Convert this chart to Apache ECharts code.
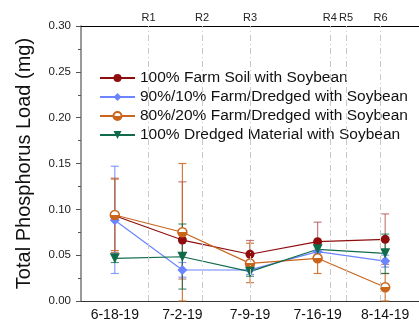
<!DOCTYPE html>
<html><head><meta charset="utf-8">
<script src="https://cdn.jsdelivr.net/npm/echarts@6/dist/echarts.min.js"></script>
<style>html,body{margin:0;padding:0;background:#fff}#c{width:419px;height:325px}</style>
</head><body><div id="c"></div>
<script>
const categories = ['6-18-19','7-2-19','7-9-19','7-16-19','8-14-19'];
const seriesNames = ['100% Farm Soil with Soybean','90%/10% Farm/Dredged with Soybean','80%/20% Farm/Dredged with Soybean','100% Dredged Material with Soybean'];
const farm      = [0.093, 0.0665, 0.051, 0.0647, 0.0673];
const farmLow   = [0.053, 0.024, 0.035, 0.044, 0.040];
const farmHigh  = [0.134, 0.130, 0.066, 0.086, 0.095];
const mix90     = [0.088, 0.0338, 0.034, 0.0538, 0.0436];
const mix90Low  = [0.030, 0.026, 0.029, 0.046, 0.037];
const mix90High = [0.147, 0.042, 0.040, 0.062, 0.050];
const mix80     = [0.0938, 0.075, 0.041, 0.0466, 0.015];
const mix80Low  = [0.055, 0.0, 0.020, 0.030, 0.0];
const mix80High = [0.133, 0.150, 0.063, 0.064, 0.030];
const dredged     = [0.0466, 0.0483, 0.032, 0.0564, 0.052];
const dredgedLow  = [0.042, 0.013, 0.027, 0.048, 0.030];
const dredgedHigh = [0.051, 0.084, 0.040, 0.064, 0.073];
const stageNames = ['R1','R2','R3','R4','R5','R6'];
const stagePos   = [0.5, 1.29, 2.0, 3.18, 3.42, 3.93];
const yTicks = [0, 0.30, 0.05];

const colors = ['#8f0d0d', '#6b84ff', '#c9661c', '#0f6b4a'];
const errColors = ['rgba(160,40,40,0.6)', 'rgba(107,132,255,0.8)', 'rgba(201,102,28,0.85)', 'rgba(15,107,74,0.75)'];
const vals = [farm, mix90, mix80, dredged];
const lows = [farmLow, mix90Low, mix80Low, dredgedLow];
const highs = [farmHigh, mix90High, mix80High, dredgedHigh];
const symbols = ['circle', 'diamond', 'circle', 'triangle'];

const FONT = 'Liberation Sans, Arial, sans-serif';
const chart = echarts.init(document.getElementById('c'), null, {renderer: 'canvas'});

const series = [];
for (let i = 0; i < 4; i++) {
  const eData = categories.map((c, k) => [k, lows[i][k], highs[i][k]]);
  series.push({
    type: 'custom', xAxisIndex: 0, yAxisIndex: 0, z: 2, silent: true,
    data: eData,
    renderItem: function (params, api) {
      const x = api.value(0);
      const lo = api.coord([x, api.value(1)]);
      const hi = api.coord([x, api.value(2)]);
      const hw = 4;
      const st = {stroke: errColors[i], lineWidth: 1.2};
      return {type: 'group', children: [
        {type: 'line', shape: {x1: lo[0], y1: lo[1], x2: hi[0], y2: hi[1]}, style: st},
        {type: 'line', shape: {x1: lo[0]-hw, y1: lo[1], x2: lo[0]+hw, y2: lo[1]}, style: st},
        {type: 'line', shape: {x1: hi[0]-hw, y1: hi[1], x2: hi[0]+hw, y2: hi[1]}, style: st}
      ]};
    }
  });
}
for (let i = 0; i < 4; i++) {
  let itemStyle = {color: colors[i]};
  if (i === 2) {
    itemStyle = {
      color: {type: 'linear', x: 0, y: 0, x2: 0, y2: 1, colorStops: [
        {offset: 0, color: '#ffffff'}, {offset: 0.5, color: '#ffffff'},
        {offset: 0.5, color: colors[2]}, {offset: 1, color: colors[2]}]},
      borderColor: colors[2], borderWidth: 1.5
    };
  }
  series.push({
    name: seriesNames[i], type: 'line', xAxisIndex: 0, yAxisIndex: 0, z: 3,
    data: vals[i],
    symbol: symbols[i],
    symbolSize: i === 1 ? 10 : (i === 3 ? 10 : 9),
    symbolRotate: i === 3 ? 180 : 0,
    lineStyle: {color: colors[i], width: 1.2},
    itemStyle: itemStyle
  });
}
series.push({
  type: 'line', xAxisIndex: 1, yAxisIndex: 0, data: [], silent: true, z: 1,
  markLine: {
    silent: true, symbol: ['none', 'none'],
    lineStyle: {color: '#c8c8c8', type: [6, 3, 1, 3], width: 1},
    label: {show: true, position: 'end', distance: 3, color: '#222', fontSize: 11, fontFamily: FONT, formatter: p => p.name},
    data: stageNames.map((n, k) => ({name: n, xAxis: stagePos[k]}))
  }
});

chart.setOption({
  animation: false,
  backgroundColor: '#ffffff',
  grid: {left: 81, top: 26, width: 340, height: 275, containLabel: false},
  legend: {
    left: 94, top: 65, orient: 'vertical', itemWidth: 35, itemHeight: 10, itemGap: 3,
    textStyle: {fontSize: 15.5, fontFamily: FONT, color: '#111'},
    data: seriesNames
  },
  xAxis: [{
    type: 'category', data: categories, boundaryGap: true,
    axisLine: {onZero: false, lineStyle: {color: '#333', width: 1}},
    axisTick: {alignWithLabel: true, inside: false, length: 5, lineStyle: {color: '#333'}},
    axisLabel: {fontSize: 14, fontFamily: FONT, color: '#111', margin: 7},
    splitLine: {show: false}
  }, {
    type: 'value', position: 'top', min: -0.5, max: 4.5,
    axisLine: {show: true, onZero: false, lineStyle: {color: '#000', width: 1}},
    axisTick: {show: false}, axisLabel: {show: false}, splitLine: {show: false}
  }],
  yAxis: {
    type: 'value', min: yTicks[0], max: yTicks[1], interval: yTicks[2],
    name: 'Total Phosphorus Load (mg)', nameLocation: 'middle', nameGap: 47,
    nameTextStyle: {fontSize: 20, fontFamily: FONT, color: '#111'},
    axisLine: {show: true, onZero: false, lineStyle: {color: '#777', width: 1.5}},
    axisTick: {show: true, inside: false, length: 5, lineStyle: {color: '#555'}},
    minorTick: {show: true, splitNumber: 2, length: 3, lineStyle: {color: '#555'}},
    axisLabel: {fontSize: 11.5, fontFamily: FONT, color: '#222', margin: 10, formatter: v => v.toFixed(2)},
    splitLine: {show: false}
  },
  series: series
});
</script></body></html>
